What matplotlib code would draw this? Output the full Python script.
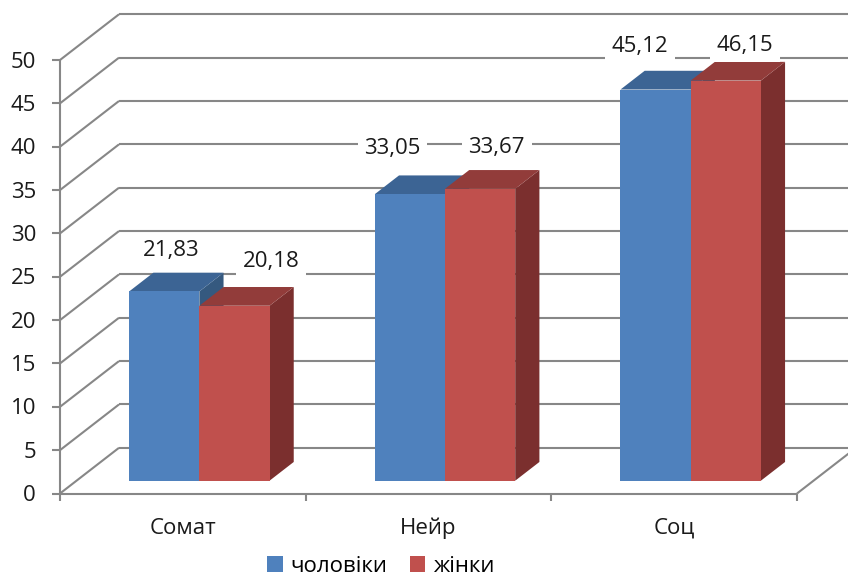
import matplotlib
matplotlib.use("Agg")
import matplotlib.pyplot as plt
from matplotlib.patches import Polygon, Patch

# ---- data ----
categories = ["Сомат", "Нейр", "Соц"]
series_names = ["чоловіки", "жінки"]
men = [21.83, 33.05, 45.12]
women = [20.18, 33.67, 46.15]
y_ticks = [0, 5, 10, 15, 20, 25, 30, 35, 40, 45, 50]

# ---- style ----
plt.rcParams["font.family"] = ["Open Sans", "DejaVu Sans"]
FS = 16
GRID = "#878787"
TXT = "#1a1a1a"
FRONT = ["#4f81bd", "#c0504d"]
TOP = ["#3c6494", "#923c3a"]
SIDE = ["#35597f", "#7b2f2e"]

W, H = 848, 577
fig = plt.figure(figsize=(W / 100, H / 100), dpi=100)
fig.patch.set_facecolor("white")

# plot box (front plane) in pixels
L, R, B, T = 60, 797, 493.5, 60
ax = fig.add_axes([L / W, (H - B) / H, (R - L) / W, (B - T) / H])
ncat = len(categories)
ymax = 50
ax.set_xlim(0, ncat)
ax.set_ylim(0, ymax)
ax.axis("off")

# pixel -> data scale factors
PXX = ncat / (R - L)
PXY = ymax / (B - T)
# oblique depth projection (full depth) in data units
DX = 59 * PXX
DY = 45.7 * PXY


def proj(x, y, d):
    return (x + DX * d, y + DY * d)


line_kw = dict(color=GRID, lw=1.5, clip_on=False, solid_capstyle="butt", zorder=1)

# back wall gridlines and side wall diagonals
for v in y_ticks:
    x0, y0 = proj(0, v, 1)
    x1, y1 = proj(ncat, v, 1)
    ax.plot([x0, x1], [y0, y1], **line_kw)
    xa, ya = proj(0, v, 0)
    ax.plot([xa, x0], [ya, y0], **line_kw)
    # tick on the front axis
    ax.plot([-8 * PXX, 0], [v, v], **line_kw)
    ax.annotate(str(v), (0, v), xytext=(-24, -7.5), textcoords="offset pixels",
                ha="right", va="baseline", fontsize=FS, color=TXT,
                annotation_clip=False)

# front vertical axis
ax.plot([0, 0], [0, ymax], **line_kw)
# floor front edge and right edge
ax.plot([0, ncat], [0, 0], **line_kw)
xr, yr = proj(ncat, 0, 1)
ax.plot([ncat, xr], [0, yr], **line_kw)
# category ticks
for i in range(ncat + 1):
    ax.plot([i, i], [0, -7 * PXY], **line_kw)

# category labels
for i, c in enumerate(categories):
    ax.annotate(c, (i + 0.5, 0), xytext=(0, -40.5), textcoords="offset pixels",
                ha="center", va="baseline", fontsize=FS, color=TXT,
                annotation_clip=False)

# bars
bw = 1 / 3.5
d0, d1 = 0.28, 0.69
label_offsets = [[(6.5, 35), (37, 39)],
                 [(-17.5, 40), (16.5, 36)],
                 [(-15.5, 38), (19.5, 30)]]
series = [men, women]
for i in range(ncat):
    for j, vals in enumerate(series):
        v = vals[i]
        xa = i + 0.5 - bw + j * bw
        xb = xa + bw
        front = [proj(xa, 0, d0), proj(xb, 0, d0), proj(xb, v, d0), proj(xa, v, d0)]
        top = [proj(xa, v, d0), proj(xb, v, d0), proj(xb, v, d1), proj(xa, v, d1)]
        side = [proj(xb, 0, d0), proj(xb, 0, d1), proj(xb, v, d1), proj(xb, v, d0)]
        z = 3 + i * 2 + j
        for pts, col in ((side, SIDE[j]), (top, TOP[j]), (front, FRONT[j])):
            ax.add_patch(Polygon(pts, closed=True, facecolor=col, edgecolor="none",
                                 clip_on=False, zorder=z))
        cx, cy = proj((xa + xb) / 2, v, d0)
        ox, oy = label_offsets[i][j]
        ax.annotate(f"{v:.2f}".replace(".", ","), (cx, cy), xytext=(ox, oy),
                    textcoords="offset pixels", ha="center", va="baseline",
                    fontsize=FS, color=TXT, zorder=20, annotation_clip=False,
                    bbox=dict(boxstyle="square,pad=0.3", fc="white", ec="none"))

handles = [Patch(facecolor=FRONT[k], edgecolor="none") for k in range(2)]
fig.legend(handles, series_names, loc="center", bbox_to_anchor=(381 / W, 1 - 566 / H),
           ncol=2, frameon=False, fontsize=FS, handlelength=0.7, handleheight=0.7,
           handletextpad=0.35, columnspacing=1.0, borderpad=0)

fig.savefig("out.png", dpi=100, facecolor="white")
